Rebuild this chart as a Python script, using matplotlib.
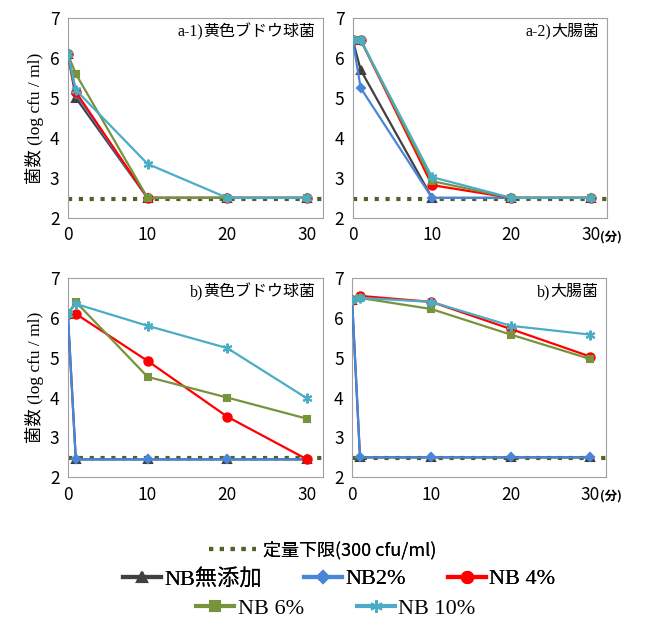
import matplotlib.pyplot as plt
from matplotlib.lines import Line2D

plt.rcParams['font.family'] = ['Noto Sans CJK JP', 'DejaVu Sans']
SERIF_JP = ['Liberation Serif', 'Noto Sans CJK JP']

# ---------------------------------------------------------------- data ---
times = [0, 1, 10, 20, 30]
series_names = ["NB無添加", "NB2%", "NB 4%", "NB 6%", "NB 10%"]
limit = 2.48  # log10(300 cfu/ml)

# a-1) 黄色ブドウ球菌
a1_none = [6.1, 5.0, 2.5, 2.5, 2.5]
a1_nb2 = [6.1, 5.1, 2.5, 2.5, 2.5]
a1_nb4 = [6.1, 5.15, 2.5, 2.5, 2.5]
a1_nb6 = [6.1, 5.6, 2.5, 2.5, 2.5]
a1_nb10 = [6.1, 5.2, 3.35, 2.5, 2.5]

# a-2) 大腸菌
a2_none = [6.45, 5.7, 2.5, 2.5, 2.5]
a2_nb2 = [6.45, 5.25, 2.5, 2.5, 2.5]
a2_nb4 = [6.45, 6.45, 2.82, 2.5, 2.5]
a2_nb6 = [6.45, 6.45, 2.92, 2.5, 2.5]
a2_nb10 = [6.45, 6.45, 3.02, 2.5, 2.5]

# b) 黄色ブドウ球菌
b1_none = [6.1, 2.45, 2.45, 2.45, 2.45]
b1_nb2 = [6.1, 2.45, 2.45, 2.45, 2.45]
b1_nb4 = [6.1, 6.1, 4.92, 3.52, 2.45]
b1_nb6 = [6.1, 6.4, 4.52, 4.0, 3.47]
b1_nb10 = [6.1, 6.35, 5.8, 5.24, 3.98]

# b) 大腸菌
b2_none = [6.45, 2.5, 2.5, 2.5, 2.5]
b2_nb2 = [6.45, 2.5, 2.5, 2.5, 2.5]
b2_nb4 = [6.45, 6.55, 6.4, 5.72, 5.03]
b2_nb6 = [6.45, 6.5, 6.22, 5.58, 4.97]
b2_nb10 = [6.45, 6.5, 6.4, 5.8, 5.58]

# --------------------------------------------------------------- style ---
colors = ["#404040", "#4a86d8", "#ff0000", "#77933c", "#4bacc6"]
markers = ["^", "D", "o", "s", (6, 2, 0)]
msizes = [5.5, 4.5, 6, 4.5, 7]
limit_color = "#4f6228"

panels = [
    ("a-1)", "黄色ブドウ球菌", [a1_none, a1_nb2, a1_nb4, a1_nb6, a1_nb10], [0.105, 0.659, 0.395, 0.313], True, False),
    ("a-2)", "大腸菌", [a2_none, a2_nb2, a2_nb4, a2_nb6, a2_nb10], [0.546, 0.659, 0.393, 0.313], False, True),
    ("b)", "黄色ブドウ球菌", [b1_none, b1_nb2, b1_nb4, b1_nb6, b1_nb10], [0.105, 0.253, 0.395, 0.312], True, False),
    ("b)", "大腸菌", [b2_none, b2_nb2, b2_nb4, b2_nb6, b2_nb10], [0.545, 0.253, 0.393, 0.312], False, True),
]

fig = plt.figure(figsize=(6.46, 6.39), dpi=100)

for tag, title, data, rect, ylab, unit in panels:
    ax = fig.add_axes(rect)
    ax.axhline(limit, color=limit_color, lw=3, ls=(0, (1, 1.6)), zorder=1)
    for vals, c, m, ms in zip(data, colors, markers, msizes):
        ax.plot(times, vals, color=c, marker=m, ms=ms, lw=1.6, mew=1.5, zorder=3)
    ax.set_xlim(0, 32)
    ax.set_ylim(2, 7)
    ax.set_xticks([0, 10, 20, 30])
    ax.set_yticks(range(2, 8))
    ax.tick_params(length=0, labelsize=12.5, pad=6)
    for s in ax.spines.values():
        s.set_color("#a0a0a0")
    t = ax.text(0.97, 0.93, title, transform=ax.transAxes, ha="right", va="center", fontsize=11.5)
    fig.canvas.draw()
    bb = t.get_window_extent().transformed(ax.transAxes.inverted())
    ax.text(bb.x0, 0.93, tag, transform=ax.transAxes, ha="right", va="center",
            fontsize=11.5, family='Liberation Serif')
    if ylab:
        ax.set_ylabel("菌数 (log cfu / ml)", fontsize=12.5, family=SERIF_JP)
    if unit:
        ax.text(31.2, 1.53, "(分)", fontsize=9, fontweight="bold", ha="left", va="center", clip_on=False)

# ---------------------------------------------------------- legends ---
lim_handle = [Line2D([], [], color=limit_color, lw=3, ls=(0, (1, 1.6)))]
leg0 = fig.legend(lim_handle, ["定量下限(300 cfu/ml)"], loc="center", bbox_to_anchor=(0.5, 0.139),
                  frameon=False, fontsize=13, handlelength=2.6, handletextpad=0.4)
fig.add_artist(leg0)

handles = [Line2D([], [], color=c, marker=m, ms=ms + 2, lw=3, mew=1.5)
           for c, m, ms in zip(colors, markers, msizes)]
leg_font = {'family': SERIF_JP, 'size': 16}
leg1 = fig.legend(handles[:3], series_names[:3], loc="center", bbox_to_anchor=(0.525, 0.094),
                  ncol=3, frameon=False, prop=leg_font, handlelength=1.7, handletextpad=0.15,
                  columnspacing=1.9)
fig.add_artist(leg1)
fig.legend(handles[3:], series_names[3:], loc="center", bbox_to_anchor=(0.52, 0.048),
           ncol=2, frameon=False, prop=leg_font, handlelength=1.7, handletextpad=0.15,
           columnspacing=2.4)

fig.savefig("out.png", dpi=100)
